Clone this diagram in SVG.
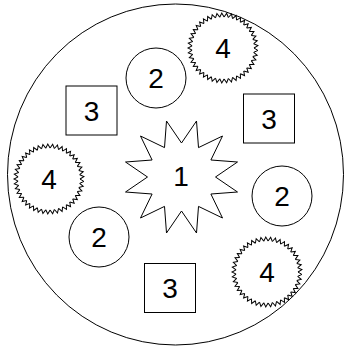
<svg xmlns="http://www.w3.org/2000/svg" xmlns:xlink="http://www.w3.org/1999/xlink" width="344" height="351" viewBox="0 0 344 351">
<style>
.s{fill:#fff;stroke:#000;stroke-width:1}
.z{fill:none;stroke:#000;stroke-width:1}
.t{font-family:"Liberation Sans",Arial,sans-serif;font-size:28px;fill:#000;text-anchor:middle}
</style>
<defs>
<path id="tooth" d="M31,0 L34.915,2.442 L30.698,4.314"/>
<g id="t5">
<use xlink:href="#tooth"/>
<use xlink:href="#tooth" transform="rotate(8)"/>
<use xlink:href="#tooth" transform="rotate(16)"/>
<use xlink:href="#tooth" transform="rotate(24)"/>
<use xlink:href="#tooth" transform="rotate(32)"/>
</g>
<g id="zig" class="z">
<circle r="31" fill="#fff" stroke="none"/>
<use xlink:href="#t5"/>
<use xlink:href="#t5" transform="rotate(40)"/>
<use xlink:href="#t5" transform="rotate(80)"/>
<use xlink:href="#t5" transform="rotate(120)"/>
<use xlink:href="#t5" transform="rotate(160)"/>
<use xlink:href="#t5" transform="rotate(200)"/>
<use xlink:href="#t5" transform="rotate(240)"/>
<use xlink:href="#t5" transform="rotate(280)"/>
<use xlink:href="#t5" transform="rotate(320)"/>
</g>
</defs>
<rect width="344" height="351" fill="#fff"/>
<g id="outer"><ellipse class="s" cx="175.5" cy="174.5" rx="168" ry="170.5"/></g>
<g id="star1">
<polygon class="s" points="215.5,177 237.5,192 210.9,194 222.5,218 198.5,206.4 196.5,233 181.5,211 166.5,233 164.5,206.4 140.5,218 152.1,194 125.5,192 147.5,177 125.5,162 152.1,160 140.5,136 164.5,147.6 166.5,121 181.5,143 196.5,121 198.5,147.6 222.5,136 210.9,160 237.5,162"/>
<text class="t" x="181" y="186">1</text>
</g>
<g id="circle2a"><circle class="s" cx="156" cy="78" r="30"/><text class="t" x="156" y="88">2</text></g>
<g id="circle2b"><circle class="s" cx="282" cy="196" r="30"/><text class="t" x="282" y="206">2</text></g>
<g id="circle2c"><circle class="s" cx="99" cy="237" r="30"/><text class="t" x="99" y="247">2</text></g>
<g id="square3a"><rect class="s" x="66" y="86" width="51" height="49"/><text class="t" x="91.5" y="120.5">3</text></g>
<g id="square3b"><rect class="s" x="243.5" y="94" width="51" height="49"/><text class="t" x="269" y="128.5">3</text></g>
<g id="square3c"><rect class="s" x="144.5" y="263.5" width="51" height="49"/><text class="t" x="170" y="298">3</text></g>
<g id="zig4a"><use xlink:href="#zig" transform="translate(223,48)"/><text class="t" x="223" y="58">4</text></g>
<g id="zig4b"><use xlink:href="#zig" transform="translate(49,179)"/><text class="t" x="49" y="189">4</text></g>
<g id="zig4c"><use xlink:href="#zig" transform="translate(267,272)"/><text class="t" x="267" y="282">4</text></g>
</svg>
